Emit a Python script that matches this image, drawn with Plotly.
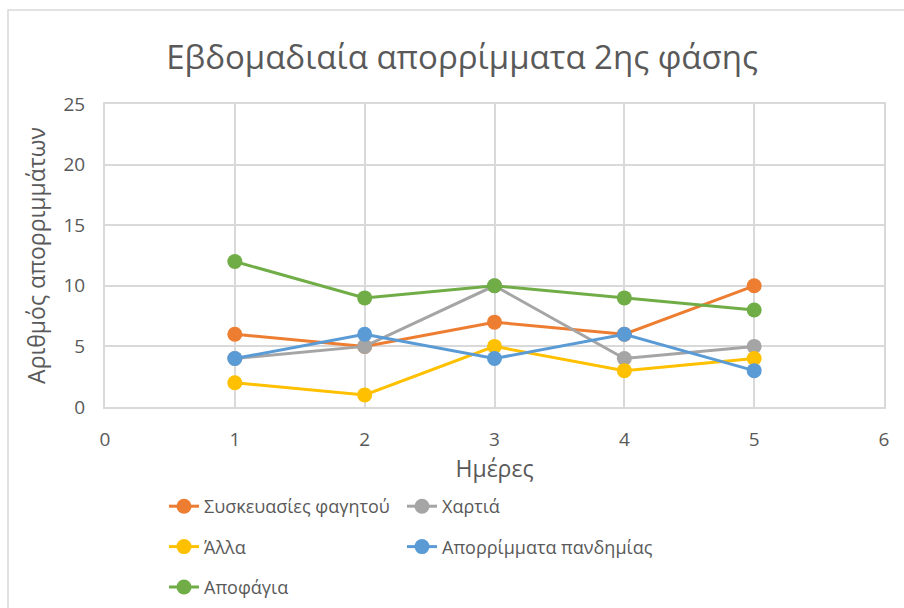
import plotly.graph_objects as go

days = [1, 2, 3, 4, 5]
series_names = ["Συσκευασίες φαγητού", "Χαρτιά", "Άλλα", "Απορρίμματα πανδημίας", "Αποφάγια"]
food_packaging = [6, 5, 7, 6, 10]
paper = [4, 5, 10, 4, 5]
other = [2, 1, 5, 3, 4]
pandemic = [4, 6, 4, 6, 3]
leftovers = [12, 9, 10, 9, 8]
series_values = [food_packaging, paper, other, pandemic, leftovers]
colors = ["#ED7D31", "#A5A5A5", "#FFC000", "#5B9BD5", "#70AD47"]
legend_ids = ["legend", "legend2", "legend", "legend2", "legend"]

title_text = "Εβδομαδιαία απορρίμματα 2ης φάσης"
x_title = "Ημέρες"
y_title = "Αριθμός απορριμμάτων"

FONT = "Open Sans"
TXT = "#595959"

fig = go.Figure()
for i, (name, vals, col, lg) in enumerate(zip(series_names, series_values, colors, legend_ids)):
    fig.add_trace(go.Scatter(
        x=days, y=vals, name=name, mode="lines+markers",
        line=dict(color=col, width=3),
        marker=dict(color=col, size=15),
        legend=lg, legendgroup=f"g{i}",
    ))

W, H = 904, 608
L, R, T, B = 105, 20, 104, 201
pw, ph = W - L - R, H - T - B

def px(xp):
    return (xp - L) / pw

def py(yp):
    return (H - B - yp) / ph

fig.update_layout(
    width=W, height=H,
    margin=dict(l=L, r=R, t=T, b=B, autoexpand=False),
    paper_bgcolor="white", plot_bgcolor="white",
    font=dict(family=FONT, color=TXT, size=18),
    title=dict(text=title_text, x=462 / W, xanchor="center", y=1 - 57 / H, yanchor="middle",
               font=dict(size=33, color=TXT, family=FONT)),
    showlegend=True,
    legend=dict(x=px(164), y=py(488), xanchor="left", yanchor="top", orientation="v",
                tracegroupgap=14, font=dict(size=18, color=TXT), bgcolor="rgba(0,0,0,0)"),
    legend2=dict(x=px(402), y=py(488), xanchor="left", yanchor="top", orientation="v",
                 tracegroupgap=14, font=dict(size=18, color=TXT), bgcolor="rgba(0,0,0,0)"),
    xaxis=dict(range=[0, 6], dtick=1, tick0=0, showgrid=True, gridcolor="#D9D9D9", gridwidth=2,
               zeroline=False, showline=True, linecolor="#D9D9D9", linewidth=2, mirror=True,
               ticks="outside", ticklen=14, tickcolor="rgba(0,0,0,0)",
               tickfont=dict(size=19, color=TXT),
               title=dict(text=x_title, font=dict(size=23, color=TXT), standoff=1)),
    yaxis=dict(range=[0, 25], dtick=5, tick0=0, showgrid=True, gridcolor="#D9D9D9", gridwidth=2,
               zeroline=False, showline=True, linecolor="#D9D9D9", linewidth=2, mirror=True,
               ticks="outside", ticklen=14, tickcolor="rgba(0,0,0,0)",
               tickfont=dict(size=19, color=TXT),
               title=dict(text=y_title, font=dict(size=23, color=TXT), standoff=11)),
    shapes=[dict(type="rect", xref="paper", yref="paper",
                 x0=px(8), x1=px(915), y0=py(620), y1=py(10),
                 line=dict(color="#D9D9D9", width=1.5), fillcolor="rgba(0,0,0,0)", layer="below")],
)

fig.write_html("out.html", post_script="document.body.style.margin='0';",
               config={"displayModeBar": False})
